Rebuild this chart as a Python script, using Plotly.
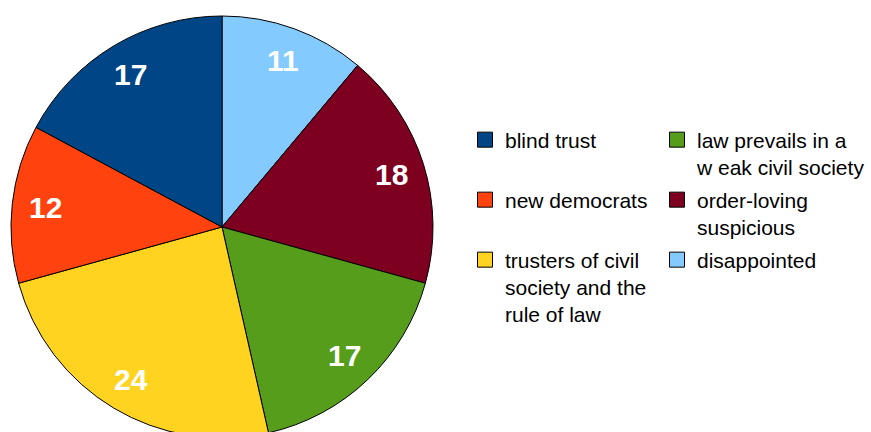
import math
import plotly.graph_objects as go

# ---- data ----
categories = [
    "blind trust",
    "new democrats",
    "trusters of civil society and the rule of law",
    "law prevails in a weak civil society",
    "order-loving suspicious",
    "disappointed",
]
legend_labels = [
    "blind trust",
    "new democrats",
    "trusters of civil<br>society and the<br>rule of law",
    "law prevails in a<br>w eak civil society",
    "order-loving<br>suspicious",
    "disappointed",
]
values = [17, 12, 24, 17, 18, 11]
colors = ["#004586", "#ff420e", "#ffd320", "#579d1c", "#7e0021", "#83caff"]
legend_column = ["legend", "legend", "legend", "legend2", "legend2", "legend2"]

# ---- geometry / style ----
W, H = 871, 440
cx, cy, r = 222, 227, 211      # pie centre & radius in px
label_frac = 0.84              # label distance as fraction of radius
font_family = "Liberation Sans, Arial, sans-serif"
legend_font = 21
legend_top = 119.5
row_h = 60

fig = go.Figure()
# slices run counter-clockwise from 12 o'clock, i.e. reversed data clockwise
fig.add_trace(go.Pie(
    labels=categories[::-1], values=values[::-1], sort=False,
    direction="clockwise", rotation=0,
    marker=dict(colors=colors[::-1], line=dict(color="black", width=1)),
    textinfo="none", showlegend=False, hoverinfo="label+value",
    domain=dict(x=[(cx - r) / W, (cx + r) / W],
                y=[(H - cy - r) / H, (H - cy + r) / H]),
))

# value labels placed along each slice bisector (counter-clockwise from top)
total = sum(values)
cum = 0
for v in values:
    mid = (cum + v / 2) / total * 2 * math.pi
    cum += v
    px = cx - label_frac * r * math.sin(mid)
    py = cy - label_frac * r * math.cos(mid)
    fig.add_annotation(
        x=px / W, y=1 - py / H, xref="paper", yref="paper",
        text=str(v), showarrow=False, xanchor="center", yanchor="middle",
        font=dict(family=font_family, size=30, color="white", weight="bold"),
    )

# legend entries (two columns = two legends)
for i, lab in enumerate(legend_labels):
    fig.add_trace(go.Scatter(
        x=[None], y=[None], mode="markers", name=lab,
        legend=legend_column[i], legendgroup=f"g{i}",
        marker=dict(symbol="square", size=15, color=colors[i],
                    line=dict(color="black", width=1)),
        showlegend=True, hoverinfo="skip",
    ))

line_h = legend_font * 1.3


def legend_style(x_px, lines_in_col):
    gap = row_h - (lines_in_col * line_h + 3)
    return dict(
        orientation="v", x=x_px / W, y=1 - legend_top / H,
        xanchor="left", yanchor="top",
        valign="top", traceorder="grouped", tracegroupgap=gap,
        font=dict(family=font_family, size=legend_font, color="black"),
        bgcolor="rgba(0,0,0,0)", borderwidth=0,
    )


fig.update_layout(
    width=W, height=H,
    margin=dict(l=0, r=0, t=0, b=0, autoexpand=False),
    paper_bgcolor="white", plot_bgcolor="white",
    xaxis=dict(visible=False), yaxis=dict(visible=False),
    legend=legend_style(465, 1),
    legend2=legend_style(657, 2),
)

fig.write_html(
    "out.html",
    post_script="document.documentElement.style.overflow='hidden';document.body.style.overflow='hidden';",
)
